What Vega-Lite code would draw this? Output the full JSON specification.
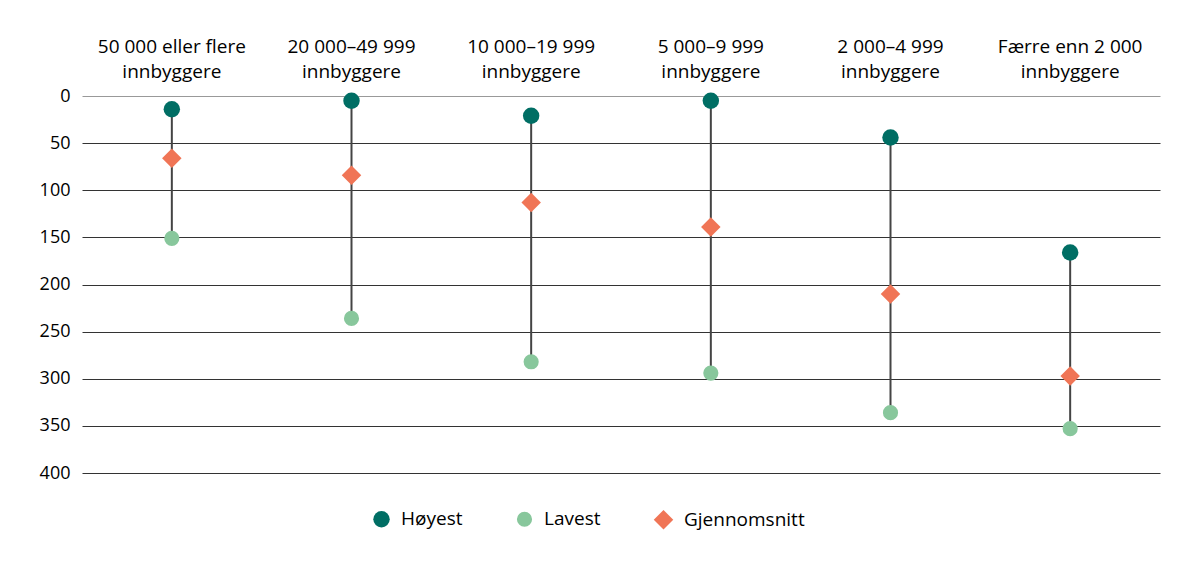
{
  "$schema": "https://vega.github.io/schema/vega-lite/v6.json",
  "autosize": {"type": "none"},
  "width": 1078,
  "height": 377,
  "padding": {"left": 82, "top": 96, "right": 38, "bottom": 95},
  "background": "white",
  "data": {
    "values": [
      {"kategori": "50 000 eller flere innbyggere", "Høyest": 14, "Lavest": 151, "Gjennomsnitt": 66},
      {"kategori": "20 000–49 999 innbyggere", "Høyest": 5, "Lavest": 236, "Gjennomsnitt": 84},
      {"kategori": "10 000–19 999 innbyggere", "Høyest": 21, "Lavest": 282, "Gjennomsnitt": 113},
      {"kategori": "5 000–9 999 innbyggere", "Høyest": 5, "Lavest": 294, "Gjennomsnitt": 139},
      {"kategori": "2 000–4 999 innbyggere", "Høyest": 44, "Lavest": 336, "Gjennomsnitt": 210},
      {"kategori": "Færre enn 2 000 innbyggere", "Høyest": 166, "Lavest": 353, "Gjennomsnitt": 297}
    ]
  },
  "encoding": {
    "x": {
      "field": "kategori",
      "type": "nominal",
      "sort": null,
      "scale": {"paddingInner": 0, "paddingOuter": 0},
      "axis": {
        "orient": "top",
        "title": null,
        "labelAngle": 0,
        "labelExpr": "[replace(datum.label, ' innbyggere', ''), 'innbyggere']",
        "labelFontSize": 19,
        "labelLineHeight": 25,
        "labelPadding": 40,
        "labelColor": "#000000",
        "ticks": false,
        "domain": false,
        "grid": false
      }
    }
  },
  "layer": [
    {
      "mark": {"type": "rule", "color": "#444444", "strokeWidth": 2},
      "encoding": {
        "y": {
          "field": "Høyest",
          "type": "quantitative",
          "scale": {"domain": [0, 400], "reverse": true, "nice": false},
          "axis": {
            "title": null,
            "values": [0, 50, 100, 150, 200, 250, 300, 350, 400],
            "labelFontSize": 18,
            "labelColor": "#000000",
            "labelPadding": 12,
            "ticks": false,
            "domain": false,
            "grid": true,
            "gridColor": {"condition": {"test": "datum.value === 0", "value": "#999999"}, "value": "#333333"},
            "gridWidth": 1
          }
        },
        "y2": {"field": "Lavest"}
      }
    },
    {
      "transform": [
        {"fold": ["Høyest", "Lavest", "Gjennomsnitt"], "as": ["serie", "verdi"]}
      ],
      "mark": {"type": "point", "filled": true, "opacity": 1},
      "encoding": {
        "y": {"field": "verdi", "type": "quantitative"},
        "color": {
          "field": "serie",
          "type": "nominal",
          "scale": {"domain": ["Høyest", "Lavest", "Gjennomsnitt"], "range": ["#006e64", "#88c79c", "#f07556"]},
          "legend": {
            "title": null,
            "orient": "none",
            "legendX": 290,
            "legendY": 413,
            "direction": "horizontal",
            "labelFontSize": 19,
            "labelColor": "#000000",
            "columnPadding": 52,
            "labelOffset": 10
          }
        },
        "shape": {
          "field": "serie",
          "type": "nominal",
          "scale": {"domain": ["Høyest", "Lavest", "Gjennomsnitt"], "range": ["circle", "circle", "diamond"]}
        },
        "size": {
          "field": "serie",
          "type": "nominal",
          "scale": {"type": "ordinal", "domain": ["Høyest", "Lavest", "Gjennomsnitt"], "range": [270, 230, 380]}
        }
      }
    }
  ],
  "config": {
    "font": "Open Sans",
    "view": {"stroke": null}
  }
}
